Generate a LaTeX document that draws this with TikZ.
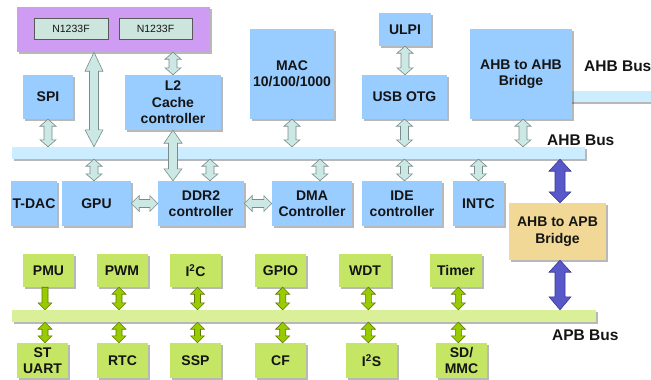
\documentclass[tikz,border=0pt]{standalone}
\usepackage{fontspec}
\setmainfont{Liberation Sans}
\usetikzlibrary{calc,shadows}
\definecolor{txt}{RGB}{20,20,20}
\definecolor{bluef}{RGB}{153,204,255}
\definecolor{busb}{RGB}{204,236,255}
\definecolor{purp}{RGB}{206,156,242}
\definecolor{nf}{RGB}{204,230,222}
\definecolor{tan}{RGB}{242,216,150}
\definecolor{grf}{RGB}{196,230,100}
\definecolor{busg}{RGB}{218,240,152}
\definecolor{gra}{RGB}{153,204,0}
\definecolor{grao}{RGB}{95,120,0}
\definecolor{tealf}{RGB}{204,232,228}
\definecolor{tealo}{RGB}{120,140,140}
\definecolor{navyf}{RGB}{88,88,200}
\definecolor{navyo}{RGB}{55,55,150}
\newcommand\vdbl[7]{\path[#1] let \p1=#2, \p2=#3 in
  (\x1,\y1) -- (\x1+#5pt,\y1-#6pt) -- (\x1+#4pt,\y1-#6pt) -- (\x1+#4pt,\y2+#7pt)
  -- (\x1+#5pt,\y2+#7pt) -- (\x1,\y2) -- (\x1-#5pt,\y2+#7pt) -- (\x1-#4pt,\y2+#7pt)
  -- (\x1-#4pt,\y1-#6pt) -- (\x1-#5pt,\y1-#6pt) -- cycle;}
\newcommand\hdbl[6]{\path[#1] let \p1=#2, \p2=#3 in
  (\x1,\y1) -- (\x1+#6pt,\y1+#5pt) -- (\x1+#6pt,\y1+#4pt) -- (\x2-#6pt,\y1+#4pt)
  -- (\x2-#6pt,\y1+#5pt) -- (\x2,\y1) -- (\x2-#6pt,\y1-#5pt) -- (\x2-#6pt,\y1-#4pt)
  -- (\x1+#6pt,\y1-#4pt) -- (\x1+#6pt,\y1-#5pt) -- cycle;}
\newcommand\vdn[6]{\path[#1] let \p1=#2, \p2=#3 in
  (\x1-#4pt,\y1) -- (\x1+#4pt,\y1) -- (\x1+#4pt,\y2+#6pt) -- (\x1+#5pt,\y2+#6pt)
  -- (\x1,\y2) -- (\x1-#5pt,\y2+#6pt) -- (\x1-#4pt,\y2+#6pt) -- cycle;}
\tikzset{
  shd/.style={drop shadow={shadow xshift=2pt,shadow yshift=-2pt,opacity=0.28,fill=black}},
  boxbase/.style={shd,align=center,inner sep=0pt,text=txt,
    font=\fontsize{14}{16.5}\selectfont\bfseries},
  bbox/.style={boxbase,fill=bluef},
  gbox/.style={boxbase,fill=grf},
  tbox/.style={boxbase,fill=tan},
  pbox/.style={shd,fill=purp,inner sep=0pt},
  nbox/.style={fill=nf,draw=black!65,line width=0.8pt,inner sep=0pt,
    font=\fontsize{10.5}{12}\selectfont,text=txt},
  bus/.style={shd,inner sep=0pt},
  lbl/.style={font=\fontsize{15.5}{18}\selectfont\bfseries,text=txt,inner sep=0pt,anchor=west},
  tealarr/.style={fill=tealf,draw=tealo,line width=0.6pt},
  navyarr/.style={fill=navyf,draw=navyo,line width=0.6pt},
  grarr/.style={fill=gra,draw=grao,line width=0.6pt}
}
\begin{document}
\begin{tikzpicture}[x=1pt,y=-1pt]
\useasboundingbox (0,0) rectangle (651,380);
% buses
\node[bus,fill=busb,minimum width=100pt,minimum height=11pt] (ahbx) at (610,96.5) {};
\node[bus,fill=busb,minimum width=573pt,minimum height=12pt] (ahb) at (298.5,153) {};
\node[bus,fill=busg,minimum width=584pt,minimum height=12pt] (apb) at (304,316) {};
% CPU cluster
\node[pbox,minimum width=193pt,minimum height=45pt] (cpu) at (113.5,29.5) {};
\node[nbox,minimum width=74pt,minimum height=21pt] (n1) at (71,28.5) {N1233F};
\node[nbox,minimum width=73pt,minimum height=21pt] (n2) at (155.5,28.5) {N1233F};
% AHB upper blocks
\node[bbox,minimum width=50pt,minimum height=44pt] (spi) at (48,97) {SPI};
\node[bbox,minimum width=96pt,minimum height=55pt] (l2) at (173,102.5) {L2\\Cache\\controller};
\node[bbox,minimum width=84pt,minimum height=90pt] (mac) at (292,74) {MAC\\10/100/1000};
\node[bbox,minimum width=52pt,minimum height=33pt] (ulpi) at (405,29.5) {ULPI};
\node[bbox,minimum width=85pt,minimum height=44pt] (usb) at (404.5,97) {USB OTG};
\node[bbox,minimum width=102pt,minimum height=90pt] (ahbb) at (521,74) {AHB to AHB\\Bridge};
% AHB lower blocks
\node[bbox,minimum width=46pt,minimum height=45pt] (tdac) at (34,203.5) {T-DAC};
\node[bbox,minimum width=69pt,minimum height=45pt] (gpu) at (96.5,203.5) {GPU};
\node[bbox,minimum width=86pt,minimum height=45pt] (ddr) at (201,203.5) {DDR2\\controller};
\node[bbox,minimum width=80pt,minimum height=45pt] (dma) at (312,203.5) {DMA\\Controller};
\node[bbox,minimum width=80pt,minimum height=45pt] (ide) at (402,203.5) {IDE\\controller};
\node[bbox,minimum width=51pt,minimum height=45pt] (intc) at (478.5,203.5) {INTC};
% bridge
\node[tbox,minimum width=97pt,minimum height=57pt] (ahbp) at (557.5,231.5) {AHB to APB\\Bridge};
% APB blocks
\node[gbox,minimum width=51pt,minimum height=33pt] (pmu) at (48.5,270.5) {PMU};
\node[gbox,minimum width=51pt,minimum height=33pt] (pwm) at (122,270.5) {PWM};
\node[gbox,minimum width=51pt,minimum height=33pt] (i2c) at (195.5,270.5) {I\textsuperscript{2}C};
\node[gbox,minimum width=51pt,minimum height=33pt] (gpio) at (280.5,270.5) {GPIO};
\node[gbox,minimum width=52pt,minimum height=33pt] (wdt) at (365,270.5) {WDT};
\node[gbox,minimum width=52pt,minimum height=33pt] (timer) at (456,270.5) {Timer};
\node[gbox,minimum width=51pt,minimum height=35pt] (uart) at (42.5,360.5) {ST\\UART};
\node[gbox,minimum width=51pt,minimum height=35pt] (rtc) at (122.5,360.5) {RTC};
\node[gbox,minimum width=51pt,minimum height=35pt] (ssp) at (195.5,360.5) {SSP};
\node[gbox,minimum width=51pt,minimum height=35pt] (cf) at (280.5,360.5) {CF};
\node[gbox,minimum width=51pt,minimum height=35pt] (i2s) at (371.5,360.5) {I\textsuperscript{2}S};
\node[gbox,minimum width=51pt,minimum height=35pt] (sd) at (461.5,360.5) {SD/\\MMC};
% labels
\node[lbl] (lbx) at (584,66) {AHB Bus};
\node[lbl] (lba) at (547,140) {AHB Bus};
\node[lbl] (lbp) at (552,335) {APB Bus};
% teal arrows
\vdbl{tealarr}{(spi.south)}{(ahb.north)}{4}{8}{7}{7}
\vdbl{tealarr}{($(cpu.south -| gpu.north)+(-2.5,0)$)}{(ahb.north)}{4.5}{9}{19}{17}
\vdbl{tealarr}{($(ahb.south -| gpu.north)+(-2.5,0)$)}{(gpu.north)}{4}{8}{7}{7}
\vdbl{tealarr}{(cpu.south -| l2.north)}{(l2.north)}{4}{8}{7}{7}
\vdbl{tealarr}{(l2.south)}{(ddr.north)}{4.5}{9}{13}{12}
\vdbl{tealarr}{($(ahb.south -| ddr.north)+(9,0)$)}{(ddr.north)}{4}{8}{7}{7}
\vdbl{tealarr}{(mac.south)}{(ahb.north)}{4}{8}{7}{7}
\vdbl{tealarr}{($(ahb.south -| dma.north)+(8,0)$)}{(dma.north)}{4}{8}{7}{7}
\vdbl{tealarr}{(ulpi.south)}{(usb.north)}{4}{8}{7}{7}
\vdbl{tealarr}{(usb.south)}{(ahb.north)}{4}{8}{7}{7}
\vdbl{tealarr}{(ahb.south -| usb.south)}{(ide.north)}{4}{8}{7}{7}
\vdbl{tealarr}{(ahb.south -| intc.north)}{(intc.north)}{4}{8}{7}{7}
\vdbl{tealarr}{($(ahbb.south)+(2,0)$)}{(ahb.north)}{4}{8}{7}{7}
\hdbl{tealarr}{(gpu.east)}{(ddr.west)}{4}{8}{8}
\hdbl{tealarr}{(ddr.east)}{(dma.west)}{4}{8}{8}
% navy arrows
\vdbl{navyarr}{($(ahb.south -| ahbp.north)+(2.5,0)$)}{(ahbp.north)}{5}{11}{12}{11}
\vdbl{navyarr}{($(ahbp.south)+(2.5,0)$)}{(apb.north)}{5}{11}{12}{13}
% green arrows
\vdn{grarr}{($(pmu.south)+(-3.5,0)$)}{(apb.north)}{3}{7}{7}
\vdbl{grarr}{($(pwm.south)+(-3,0)$)}{(apb.north)}{3}{7}{7}{7}
\vdbl{grarr}{($(i2c.south)+(2,0)$)}{(apb.north)}{3}{7}{7}{7}
\vdbl{grarr}{($(gpio.south)+(2.2,0)$)}{(apb.north)}{3}{7}{7}{7}
\vdbl{grarr}{($(wdt.south)+(3.3,0)$)}{(apb.north)}{3}{7}{7}{7}
\vdbl{grarr}{($(timer.south)+(2.3,0)$)}{(apb.north)}{3}{7}{7}{7}
\vdbl{grarr}{($(apb.south -| pmu.south)+(-3.5,0)$)}{(uart.north)}{3}{7}{7}{7}
\vdbl{grarr}{($(apb.south -| pwm.south)+(-3,0)$)}{(rtc.north)}{3}{7}{7}{7}
\vdbl{grarr}{($(apb.south -| i2c.south)+(2,0)$)}{(ssp.north)}{3}{7}{7}{7}
\vdbl{grarr}{($(apb.south -| gpio.south)+(2.2,0)$)}{(cf.north)}{3}{7}{7}{7}
\vdbl{grarr}{($(apb.south -| wdt.south)+(3.3,0)$)}{(i2s.north)}{3}{7}{7}{7}
\vdbl{grarr}{($(apb.south -| timer.south)+(2.3,0)$)}{(sd.north)}{3}{7}{7}{7}
\end{tikzpicture}
\end{document}
